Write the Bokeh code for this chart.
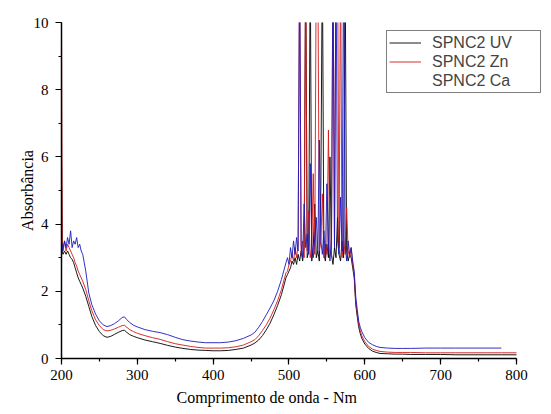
import numpy as np
from bokeh.plotting import figure
from bokeh.models import (Range1d, SingleIntervalTicker, Legend, LegendItem, Title)
from bokeh.embed import file_html
from bokeh.resources import INLINE

# wavelength grids (nm)
wl_uv = [200, 201, 202, 204, 206, 208, 210, 212, 214, 216, 218, 220, 222, 224, 226, 228,
         232, 236, 240, 245, 250, 255, 260, 265, 270, 275, 280, 283, 286, 290, 295, 300,
         310, 320, 330, 340, 350, 360, 370, 380, 390, 400, 410, 420, 430, 440, 450, 455,
         460, 465, 470, 475, 480, 485, 490, 496]
wl_band = list(range(498, 585, 2))
wl_tail = [586, 588, 590, 592, 594, 596, 600, 605, 610, 615, 620, 630, 640, 650, 660,
           680, 700, 720, 740, 760, 780, 790, 800]

# SPNC2 UV (black)
uv_a = [6.0, 3.2, 3.1, 3.2, 3.1, 3.2, 3.1, 3.0, 2.95, 2.85, 2.7, 2.55, 2.4, 2.3, 2.2, 2.1,
        1.85, 1.55, 1.25, 0.98, 0.8, 0.68, 0.63, 0.66, 0.72, 0.78, 0.83, 0.84, 0.78, 0.71,
        0.66, 0.62, 0.55, 0.5, 0.45, 0.39, 0.34, 0.3, 0.27, 0.25, 0.24, 0.23, 0.23, 0.24,
        0.27, 0.31, 0.4, 0.46, 0.55, 0.68, 0.85, 1.05, 1.3, 1.58, 1.9, 2.4]
uv_b = [2.5, 2.6, 2.7, 2.9, 2.8, 3.0, 2.8, 3.1, 2.9, 3.2, 2.9, 3.3, 12, 3.0, 3.2, 12,
        2.9, 3.3, 4.6, 3.0, 3.2, 2.9, 5.1, 12, 3.1, 2.9, 3.4, 3.0, 6.0, 3.1, 2.8, 3.3,
        3.0, 4.2, 3.1, 2.9, 3.5, 3.0, 12, 3.2, 2.9, 3.1, 3.0, 2.7]
uv_c = [2.4, 1.6, 1.25, 0.92, 0.74, 0.6, 0.43, 0.3, 0.22, 0.18, 0.15, 0.14, 0.13, 0.13,
        0.12, 0.12, 0.12, 0.11, 0.11, 0.11, 0.11, 0.11, 0.11]

# SPNC2 Zn (red)
zn_a = [9.6, 3.5, 3.3, 3.5, 3.2, 3.4, 3.3, 3.2, 3.1, 3.0, 2.85, 2.75, 2.6, 2.5, 2.4, 2.3,
        2.05, 1.72, 1.42, 1.15, 0.98, 0.86, 0.82, 0.84, 0.88, 0.93, 0.98, 0.99, 0.93, 0.86,
        0.8, 0.75, 0.68, 0.62, 0.57, 0.5, 0.44, 0.4, 0.36, 0.33, 0.31, 0.31, 0.31, 0.32,
        0.35, 0.4, 0.5, 0.56, 0.68, 0.83, 1.0, 1.2, 1.45, 1.72, 2.05, 2.55]
zn_b = [2.6, 2.8, 2.9, 3.1, 2.9, 3.3, 3.0, 3.4, 12, 3.1, 3.5, 3.0, 12, 3.2, 4.4, 3.0,
        3.3, 5.5, 3.1, 12, 12, 3.2, 3.5, 4.9, 3.0, 3.4, 3.1, 6.8, 3.2, 3.0, 12, 3.4,
        12, 12, 3.3, 12, 3.0, 3.6, 3.1, 4.5, 3.2, 3.0, 3.3, 2.8]
zn_c = [2.5, 1.7, 1.35, 1.0, 0.82, 0.68, 0.5, 0.36, 0.28, 0.24, 0.21, 0.19, 0.18, 0.18,
        0.18, 0.17, 0.17, 0.17, 0.17, 0.17, 0.17, 0.17, 0.17]

# SPNC2 Ca (blue)
ca_a = [3.3, 3.4, 3.2, 3.5, 3.3, 3.6, 3.4, 3.8, 3.3, 3.5, 3.4, 3.6, 3.3, 3.4, 3.2, 3.1,
        2.6, 1.95, 1.6, 1.32, 1.12, 1.0, 0.95, 0.98, 1.04, 1.12, 1.22, 1.24, 1.16, 1.07,
        0.99, 0.94, 0.86, 0.81, 0.77, 0.71, 0.63, 0.56, 0.52, 0.49, 0.47, 0.47, 0.47, 0.49,
        0.53, 0.6, 0.7, 0.78, 0.93, 1.1, 1.3, 1.5, 1.72, 2.0, 2.35, 2.85]
ca_b = [3.0, 2.8, 3.3, 3.0, 3.5, 3.1, 3.6, 3.2, 12, 3.4, 3.0, 4.6, 3.3, 3.7, 3.1, 5.8,
        3.4, 3.0, 3.6, 4.2, 3.2, 6.5, 3.5, 3.1, 3.8, 3.0, 5.2, 3.4, 2.9, 3.6, 12, 3.3,
        12, 3.5, 3.1, 4.8, 3.2, 12, 3.4, 2.9, 3.5, 3.1, 3.3, 2.9]
ca_c = [2.6, 1.85, 1.45, 1.1, 0.93, 0.8, 0.62, 0.48, 0.41, 0.36, 0.33, 0.31, 0.3, 0.3,
        0.3, 0.31, 0.31, 0.31, 0.31, 0.31, 0.31, np.nan, np.nan]

labels = ["SPNC2 UV", "SPNC2 Zn", "SPNC2 Ca"]
colors = ["#000000", "#d41a1a", "#1c1cc0"]

wl = wl_uv + wl_band + wl_tail
series = [uv_a + uv_b + uv_c, zn_a + zn_b + zn_c, ca_a + ca_b + ca_c]

# x range extends past 800 so the legend (which overhangs the axis end) is not clipped
p = figure(width=551, height=414, output_backend="svg", toolbar_location=None,
           x_range=Range1d(200, 834.3), y_range=Range1d(0, 10),
           min_border_left=61, min_border_right=9, min_border_top=22, min_border_bottom=56)
p.outline_line_color = None
p.xgrid.visible = False
p.ygrid.visible = False
p.background_fill_color = "white"
p.border_fill_color = "white"

rends = []
for ys, c in zip(series, colors):
    rends.append(p.line(wl, ys, line_color=c, line_width=1, line_alpha=0.9))

# invisible stand-in for the third legend entry (the reference shows no sample line)
leg_ca = p.line(wl[:2], series[2][:2], line_alpha=0)

p.xaxis.ticker = SingleIntervalTicker(interval=100, num_minor_ticks=2)
p.yaxis.ticker = SingleIntervalTicker(interval=2, num_minor_ticks=2)
p.xaxis.bounds = (200, 800)
for ax in (p.xaxis, p.yaxis):
    ax.axis_line_width = 1.5
    ax.axis_line_color = "black"
    ax.major_tick_line_color = "black"
    ax.minor_tick_line_color = "black"
    ax.major_tick_line_width = 1.2
    ax.minor_tick_line_width = 1.2
    ax.major_tick_out = 6
    ax.major_tick_in = 0
    ax.minor_tick_out = 3
    ax.minor_tick_in = 0
    ax.major_label_text_font = "Liberation Serif"
    ax.major_label_text_font_size = "15px"
    ax.major_label_text_color = "black"
    ax.major_label_standoff = 5
p.yaxis.major_label_standoff = 7

p.yaxis.axis_label = "Absorbância"
p.yaxis.axis_label_text_font = "Liberation Serif"
p.yaxis.axis_label_text_font_style = "normal"
p.yaxis.axis_label_text_font_size = "16px"
p.yaxis.axis_label_standoff = -5
p.yaxis.axis_label_text_color = "black"

xt = Title(text="Comprimento de onda - Nm", align="left", offset=115,
           text_font="Liberation Serif", text_font_size="16px",
           text_font_style="normal", text_color="black", standoff=8)
p.add_layout(xt, "below")

legend = Legend(items=[LegendItem(label=labels[0], renderers=[rends[0]]),
                       LegendItem(label=labels[1], renderers=[rends[1]]),
                       LegendItem(label=labels[2], renderers=[leg_ca])],
                location=(325, 265))
legend.border_line_color = "black"
legend.border_line_width = 1
legend.background_fill_color = "white"
legend.background_fill_alpha = 1
legend.label_text_font = "Liberation Sans"
legend.label_text_font_size = "16px"
legend.glyph_width = 32
legend.glyph_height = 19
legend.label_height = 19
legend.spacing = 0
legend.padding = 2
legend.margin = 0
legend.label_standoff = 11
legend.label_width = 106
p.add_layout(legend)

open("out.html", "w").write(file_html(p, INLINE))
